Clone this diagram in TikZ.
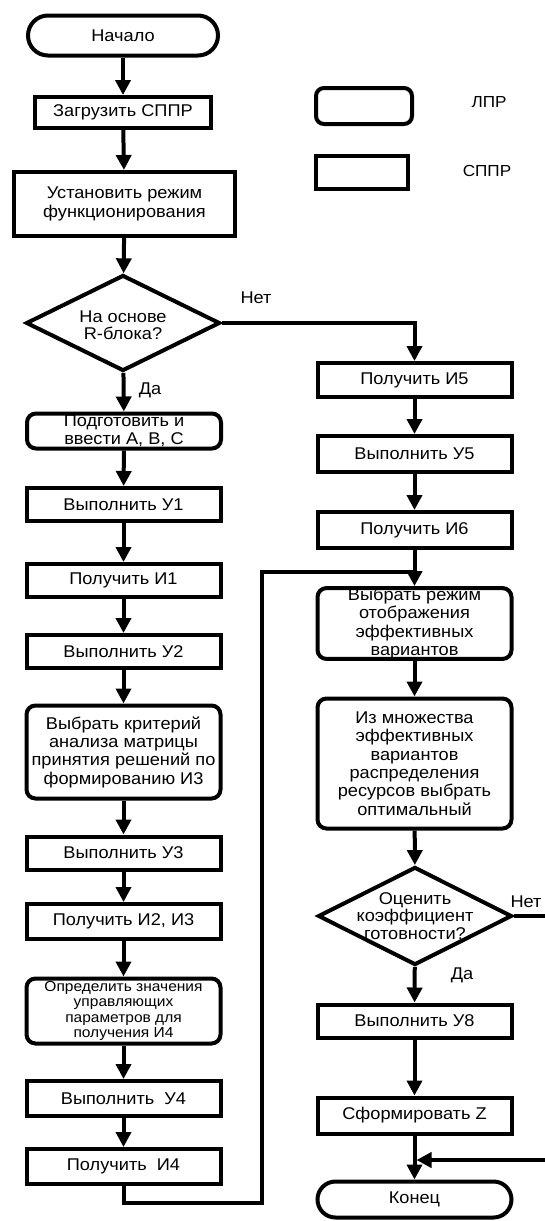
\documentclass[tikz,border=0pt]{standalone}
\usepackage{fontspec}
\setmainfont{Liberation Sans}[FakeStretch=1.07]
\usetikzlibrary{arrows.meta,shapes.geometric}
\begin{document}
\begin{tikzpicture}[x=1pt,y=-1pt, font=\fontsize{17}{18.3}\selectfont,
  sbox/.style={draw, line width=4pt, inner sep=0pt, align=center, minimum width=194pt, minimum height=33pt},
  lbox/.style={sbox, rounded corners=9pt},
  term/.style={sbox, rounded corners=19pt},
  dec/.style={draw, diamond, line width=4pt, inner sep=0pt},
  dtext/.style={align=center, inner sep=0pt, font=\fontsize{17}{17.5}\selectfont},
  flow/.style={line width=4pt, -{Triangle[width=15pt,length=15pt]}},
  conn/.style={line width=4pt}]
\useasboundingbox (0,0) rectangle (544,1221);

% left column
\node[term, minimum width=190pt, minimum height=40pt, rounded corners=20pt] (start) at (123,35.5) {Начало};
\node[sbox, minimum width=176pt, minimum height=31pt] (zag) at (123,112.5) {Загрузить СППР};
\node[sbox, minimum width=221pt, minimum height=64pt] (ust) at (124.5,204) {Установить режим\\функционирования};
\node[dec, minimum width=194pt, minimum height=96pt] (d1) at (123,323) {};
\node[dtext] (d1t) at (123,325) {На основе\\R-блока?};
\node[lbox, minimum height=35pt] (prep) at (124,431) {Подготовить и\\ввести A, B, C};
\node[sbox] (u1) at (123.5,504.5) {Выполнить У1};
\node[sbox] (i1) at (123.5,580.5) {Получить И1};
\node[sbox] (u2) at (123.5,651.5) {Выполнить У2};
\node[lbox, minimum height=93pt] (crit) at (123.5,752) {Выбрать критерий\\анализа матрицы\\принятия решений по\\формированию И3};
\node[sbox] (u3) at (123.5,853) {Выполнить У3};
\node[sbox, minimum height=35pt] (i23) at (123.5,921.5) {Получить И2, И3};
\node[lbox, minimum height=65pt, font=\fontsize{14.5}{15.5}\selectfont] (opr) at (123.5,1011) {Определить значения\\управляющих\\параметров для\\получения И4};
\node[sbox, minimum height=35pt] (u4) at (123.5,1098.5) {Выполнить\ \ У4};
\node[sbox, minimum height=35pt] (i4) at (123.5,1166.5) {Получить\ \ И4};

% right column
\node[sbox, minimum height=34pt] (i5) at (414.5,380) {Получить И5};
\node[sbox, minimum height=36pt] (u5) at (414.5,454) {Выполнить У5};
\node[sbox, minimum height=36pt] (i6) at (414.5,530) {Получить И6};
\node[lbox, minimum height=70pt] (vyb) at (414.5,623.5) {Выбрать режим\\отображения\\эффективных\\вариантов};
\node[lbox, minimum height=130pt] (izm) at (414.5,763.5) {Из множества\\эффективных\\вариантов\\распределения\\ресурсов выбрать\\оптимальный};
\node[dec, minimum width=194pt, minimum height=98pt] (d2) at (415,916) {};
\node[dtext] (d2t) at (415,916) {Оценить\\коэффициент\\готовности?};
\node[sbox] (u8) at (414.5,1021) {Выполнить У8};
\node[sbox, minimum height=36pt] (z) at (414.5,1115.5) {Сформировать Z};
\node[term, minimum height=36pt, rounded corners=18pt] (end) at (414.5,1199.5) {Конец};

% legend
\node[lbox, minimum width=96pt, minimum height=36pt, rounded corners=8pt] (lgA) at (364,106) {};
\node[sbox, minimum width=92pt, minimum height=33pt] (lgB) at (362,172.5) {};
\node[font=\fontsize{16}{18}\selectfont] (lgAt) at (489,102) {ЛПР};
\node[font=\fontsize{16}{18}\selectfont] (lgBt) at (487,171) {СППР};

% labels
\node (yes1) at (150,390) {Да};
\node (no1) at (256,298) {Нет};
\node (no2) at (526,902) {Нет};
\node (yes2) at (462,975) {Да};

% connectors
\draw[flow] (start) -- (zag);
\draw[flow] (zag) -- (ust);
\draw[flow] (ust) -- (d1);
\draw[flow] (d1) -- (prep);
\draw[flow] (prep) -- (u1);
\draw[flow] (u1) -- (i1);
\draw[flow] (i1) -- (u2);
\draw[flow] (u2) -- (crit);
\draw[flow] (crit) -- (u3);
\draw[flow] (u3) -- (i23);
\draw[flow] (i23) -- (opr);
\draw[flow] (opr) -- (u4);
\draw[flow] (u4) -- (i4);

\draw[flow] (d1.east) -| (i5.north);
\draw[flow] (i5) -- (u5);
\draw[flow] (u5) -- (i6);
\draw[flow] (i6) -- (vyb);
\draw[flow] (vyb) -- (izm);
\draw[flow] (izm) -- (d2);
\draw[flow] (d2) -- (u8);
\draw[flow] (u8) -- (z);
\draw[flow] (z) -- (end);

\coordinate (lb) at (123.5,1203);
\coordinate (lr) at (262,572);
\draw[conn] (i4.south) -- (lb) -| (lr) -- (lr -| vyb.north);

\coordinate (rx) at (549,916);
\coordinate (rj) at (416.5,1160);
\draw[flow] (d2.east) -- (rx) |- (rj);
\end{tikzpicture}
\end{document}
